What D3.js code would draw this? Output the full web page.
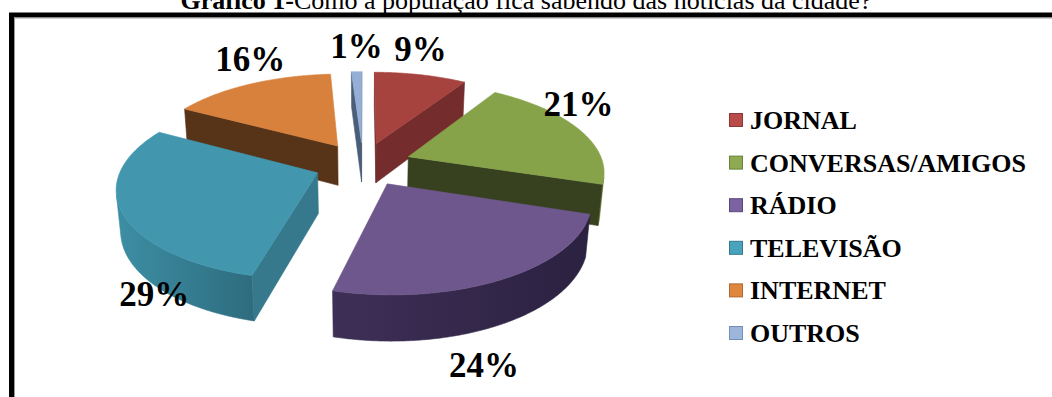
<!DOCTYPE html>
<html><head><meta charset="utf-8">
<script src="https://cdn.jsdelivr.net/npm/d3@7"></script>
<style>body{margin:0;background:#fff;} svg{display:block}</style>
</head><body>
<svg id="c" width="1052" height="397"></svg>
<script>
// ---- data ----
const categories = ["JORNAL", "CONVERSAS/AMIGOS", "RÁDIO", "TELEVISÃO", "INTERNET", "OUTROS"];
const values = [9, 21, 24, 29, 16, 1];
const valueLabels = ["9%", "21%", "24%", "29%", "16%", "1%"];
const titleBold = "Gráfico 1-";
const titleRest = "Como a população fica sabendo das notícias da cidade?";

// ---- styles ----
const topColors   = ["#A6433F", "#86A34A", "#6E578C", "#4297AE", "#D8813D", "#94AED6"];
const cutColors   = ["#742D2C", "#374120", "#3A2B50", "#36798C", "#573318", "#4B5E78"];
const sideLight   = ["#9A3E3B", "#7E9A45", "#3E2F57", "#3D8EA4", "#B96E33", "#8AA2C8"];
const sideDark    = ["#7A302E", "#5F7434", "#2B2140", "#2E6C7E", "#8E5426", "#6E84A6"];
const legendFill  = ["#B94B49", "#8DAA52", "#7B62A0", "#4AA3BD", "#E0873F", "#9BB5DB"];
const legendLine  = ["#8C3836", "#6B8238", "#5A4878", "#35798C", "#B0682E", "#7390B8"];

const svg = d3.select("#c");
const serif = "'Liberation Serif','Times New Roman',serif";

// frame
svg.append("rect").attr("x", 11.5).attr("y", 15).attr("width", 1100).attr("height", 500)
  .attr("fill", "none").attr("stroke", "#000").attr("stroke-width", 5);
svg.append("line").attr("x1", 14.5).attr("x2", 14.5).attr("y1", 17.5).attr("y2", 400)
  .attr("stroke", "#9a9a9a").attr("stroke-width", 1);
svg.append("line").attr("x1", 14).attr("x2", 1060).attr("y1", 18).attr("y2", 18)
  .attr("stroke", "#9a9a9a").attr("stroke-width", 1);

// title
const t = svg.append("text").attr("x", 526).attr("y", 9).attr("text-anchor", "middle")
  .attr("font-family", serif).attr("font-size", 26).attr("fill", "#000");
t.append("tspan").attr("font-weight", "bold").text(titleBold);
t.append("tspan").text(titleRest);

// ---- 3D projection ----
const sinP = 0.45, cosP = Math.sqrt(1 - sinP * sinP);
const Dcam = 5.95, F = 1160, cx = 363, cy = 164, thick = 0.235, explode = 0.25;
const cam = [0, Dcam * sinP, -Dcam * cosP];
function proj(X, Y, Z) {
  const d = Dcam + Z * cosP - Y * sinP;
  return [cx + F * X / d, cy - F * (Y * cosP + Z * sinP) / d];
}
const line = d3.line().curve(d3.curveLinearClosed);
const defs = svg.append("defs");

const arcs = d3.pie().sort(null).value(d => d).startAngle(0).endAngle(2 * Math.PI)(values);
const slices = arcs.map((a, i) => {
  const b = (a.startAngle + a.endAngle) / 2;
  return { i, a0: a.startAngle, a1: a.endAngle, b,
           ex: explode * Math.sin(b), ez: explode * Math.cos(b) };
});

const gPie = svg.append("g");
const order = slices.slice().sort((p, q) => q.ez - p.ez);

order.forEach(s => {
  const { i, a0, a1, ex, ez } = s;
  const g = gPie.append("g");
  const rim = (th, Y) => proj(ex + Math.sin(th), Y, ez + Math.cos(th));
  const apex = Y => proj(ex, Y, ez);
  const N = Math.max(4, Math.ceil((a1 - a0) / 0.01));
  const ths = d3.range(N + 1).map(k => a0 + (a1 - a0) * k / N);

  // curved side
  const vis = ths.map(th => Math.sin(th) * (cam[0] - ex - Math.sin(th)) + Math.cos(th) * (cam[2] - ez - Math.cos(th)) > 0);
  let runs = [], cur = null;
  ths.forEach((th, k) => {
    if (vis[k]) { if (!cur) { cur = []; runs.push(cur); } cur.push(th); } else cur = null;
  });
  runs.forEach((run, r) => {
    if (run.length < 2) return;
    const top = run.map(th => rim(th, 0));
    const bot = run.map(th => rim(th, -thick)).reverse();
    const pts = top.concat(bot);
    const xs = pts.map(p => p[0]);
    const gid = "gs" + i + "_" + r;
    const gr = defs.append("linearGradient").attr("id", gid).attr("gradientUnits", "userSpaceOnUse")
      .attr("x1", d3.min(xs)).attr("x2", d3.max(xs)).attr("y1", 0).attr("y2", 0);
    gr.append("stop").attr("offset", 0).attr("stop-color", sideLight[i]);
    gr.append("stop").attr("offset", 1).attr("stop-color", sideDark[i]);
    g.append("path").attr("d", line(pts)).attr("fill", `url(#${gid})`)
      .attr("stroke", `url(#${gid})`).attr("stroke-width", 0.6).attr("stroke-linejoin", "round");
  });

  // cut faces
  [[a0, a0 - Math.PI / 2], [a1, a1 + Math.PI / 2]].forEach(([th, na]) => {
    const nx = Math.sin(na), nz = Math.cos(na);
    const dot = nx * (cam[0] - ex) + nz * (cam[2] - ez);
    if (dot <= 0) return;
    const pts = [apex(0), rim(th, 0), rim(th, -thick), apex(-thick)];
    g.append("path").attr("d", line(pts)).attr("fill", cutColors[i])
      .attr("stroke", cutColors[i]).attr("stroke-width", 0.6).attr("stroke-linejoin", "round");
  });

  // top face
  const topPts = [apex(0)].concat(ths.map(th => rim(th, 0)));
  g.append("path").attr("d", line(topPts)).attr("fill", topColors[i])
    .attr("stroke", topColors[i]).attr("stroke-width", 0.6).attr("stroke-linejoin", "round");
});

// value labels
slices.forEach(s => {
  const { i, b, ex, ez } = s;
  let lx, ly;
  if (Math.cos(b) > 0) {
    const p = proj(ex + Math.sin(b), 0, ez + Math.cos(b));
    lx = p[0]; ly = p[1] - 25;
  } else {
    const p = proj(ex + Math.sin(b), -thick, ez + Math.cos(b));
    lx = p[0] + (cx - p[0]) * 0.12; ly = p[1] + 41;
  }
  svg.append("text").attr("x", lx).attr("y", ly + 11.5).attr("text-anchor", "middle")
    .attr("font-family", serif).attr("font-weight", "bold").attr("font-size", 35)
    .attr("fill", "#000").text(valueLabels[i]);
});

// legend
const ly0 = 129, lstep = 42.6;
const lg = svg.append("g");
categories.forEach((c, i) => {
  const y = ly0 + i * lstep;
  lg.append("rect").attr("x", 729.5).attr("y", y - 15.5).attr("width", 13).attr("height", 13)
    .attr("fill", legendFill[i]).attr("stroke", legendLine[i]).attr("stroke-width", 1);
  lg.append("text").attr("x", 750).attr("y", y).attr("font-family", serif)
    .attr("font-weight", "bold").attr("font-size", 26).attr("fill", "#000").text(c);
});
</script>
</body></html>
